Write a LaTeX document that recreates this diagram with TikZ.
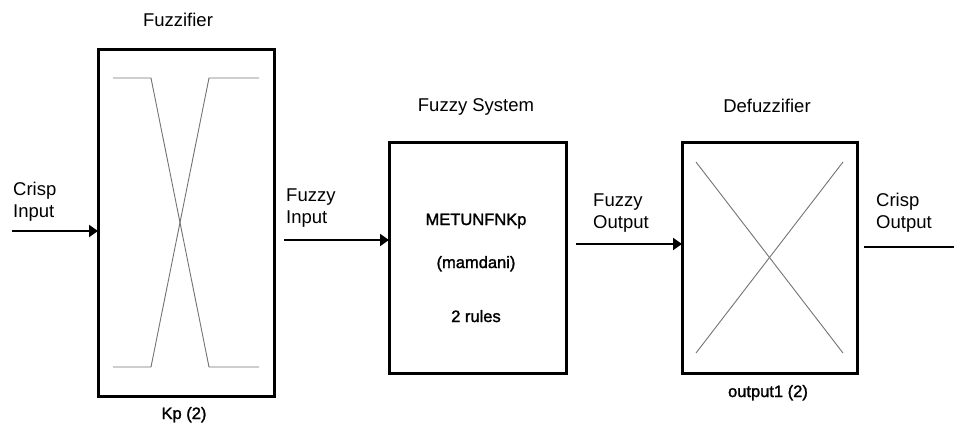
\documentclass[tikz,border=0pt]{standalone}
\usepackage{fontspec}
\setmainfont{Liberation Sans}
\newfontfamily\labelfont[FakeBold=1.6]{Liberation Sans}
\usetikzlibrary{arrows.meta}
\tikzset{
  block/.style={draw, line width=3pt, inner sep=0pt, outer sep=0pt},
  curve/.style={draw=black!55, line width=0.9pt},
  flow/.style={line width=2pt, -{Triangle[length=9pt,width=12pt]}},
  plain/.style={line width=2pt},
  title/.style={font=\fontsize{18.5}{22}\selectfont, inner sep=0pt, anchor=base},
  sig/.style={font=\fontsize{18.5}{21.5}\selectfont, align=left, inner sep=0pt, anchor=base west},
  inner/.style={font=\labelfont\fontsize{16.5}{19}\selectfont, inner sep=0pt, anchor=base},
}
\begin{document}
\begin{tikzpicture}[x=1pt, y=-1pt]
\useasboundingbox (0,0) rectangle (954,426);

% the three blocks
\node[block, minimum width=176pt, minimum height=347pt] (fz)  at (186,222.5) {};
\node[block, minimum width=177pt, minimum height=231pt] (sys) at (477.5,257.5) {};
\node[block, minimum width=175pt, minimum height=231pt] (dfz) at (769.5,257.5) {};

% block titles and captions
\node[title] (tfz)  at (178,26)  {Fuzzifier};
\node[title] (tsys) at (476,111) {Fuzzy System};
\node[title] (tdfz) at (767,112) {Defuzzifier};
\node[inner] (cfz)  at (184,419) {Kp (2)};
\node[inner] (cdfz) at (768,397) {output1 (2)};

% inside the fuzzy system block
\node[inner] (n1) at (476,225) {METUNFNKp};
\node[inner] (n2) at (476,268) {(mamdani)};
\node[inner] (n3) at (476,322) {2 rules};

% membership functions of the fuzzifier
\draw[curve] (113,78) -- (151,78) -- (209,367) -- (259,367);
\draw[curve] (113,367) -- (151,367) -- (209,78) -- (259,78);

% defuzzifier cross
\draw[curve] (696,162) -- (843,353);
\draw[curve] (843,162) -- (696,353);

% signal labels (anchored at the baseline of their last line)
\node[sig] (lci) at (13,217)  {Crisp\\Input};
\node[sig] (lfi) at (286,223) {Fuzzy\\Input};
\node[sig] (lfo) at (593,228) {Fuzzy\\Output};
\node[sig] (lco) at (876,228) {Crisp\\Output};

% connectors
\coordinate (cin) at (12,231);
\coordinate (fin) at (284,240);
\coordinate (fout) at (576,244);
\coordinate (cout) at (954,247);
\draw[flow] (cin) -- (fz.west |- cin);
\draw[flow] (fin) -- (sys.west |- fin);
\draw[flow] (fout) -- (dfz.west |- fout);
\draw[plain, shorten <=7pt] (dfz.east |- cout) -- (cout);
\end{tikzpicture}
\end{document}
